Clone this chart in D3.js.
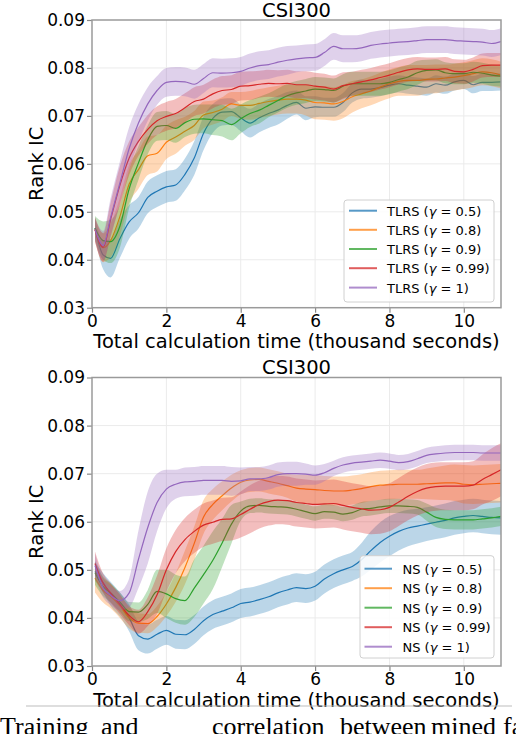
<!DOCTYPE html>
<html><head><meta charset="utf-8">
<script src="https://cdn.jsdelivr.net/npm/d3@7"></script>
<style>
body{margin:0;background:#fff}
svg{display:block}
text{font-family:"DejaVu Sans",sans-serif;fill:#000}
</style>
</head><body>
<svg id="chart" width="516" height="734"></svg>
<script>
// ---- data ----
const xGrid = [0.08,0.3,0.5,0.75,1,1.25,1.5,1.75,2,2.25,2.5,2.75,3,3.25,3.5,3.75,4,4.25,4.5,4.75,5,5.25,5.5,5.75,6,6.25,6.5,6.75,7,7.25,7.5,7.75,8,8.25,8.5,8.75,9,9.25,9.5,9.75,10,10.25,10.5,10.75,11];
const gammas = ["0.5","0.8","0.9","0.99","1"];
const colors = ["#1f77b4","#ff7f0e","#2ca02c","#d62728","#9467bd"];
const xTicks = [0,2,4,6,8,10];
const yTicks = [0.03,0.04,0.05,0.06,0.07,0.08,0.09];
const panelTitles = ["CSI300","CSI300"];
const methodNames = ["TLRS","NS"];

// TLRS (top panel) means and half-widths of the shaded band
const tlrs05 = [0.0466,0.0410,0.0403,0.0444,0.0479, 0.0498,0.0530,0.0543,0.0552,0.0556, 0.0578,0.0612,0.0664,0.0695,0.0708, 0.0709,0.0696,0.0685,0.0696,0.0705, 0.0712,0.0722,0.0728,0.0716,0.0719, 0.0718,0.0718,0.0728,0.0748,0.0756, 0.0756,0.0759,0.0764,0.0767,0.0764, 0.0762,0.0760,0.0767,0.0764,0.0771, 0.0774,0.0765,0.0770,0.0770,0.0771];
const tlrs05Band = [0.0020,0.0030,0.0040,0.0040,0.0035, 0.0033,0.0033,0.0033,0.0033,0.0033, 0.0033,0.0035,0.0035,0.0030,0.0028, 0.0028,0.0028,0.0030,0.0030,0.0030, 0.0030,0.0028,0.0025,0.0025,0.0022, 0.0020,0.0020,0.0020,0.0020,0.0020, 0.0018,0.0018,0.0018,0.0018,0.0018, 0.0018,0.0018,0.0018,0.0018,0.0018, 0.0018,0.0018,0.0018,0.0018,0.0018];
const tlrs08 = [0.0463,0.0425,0.0440,0.0490,0.0558, 0.0588,0.0617,0.0622,0.0645,0.0656, 0.0668,0.0680,0.0702,0.0707,0.0714, 0.0725,0.0722,0.0722,0.0726,0.0730, 0.0733,0.0735,0.0735,0.0733,0.0728, 0.0727,0.0725,0.0730,0.0740,0.0746, 0.0752,0.0760,0.0767,0.0772,0.0774, 0.0774,0.0776,0.0777,0.0779,0.0781, 0.0784,0.0788,0.0792,0.0790,0.0785];
const tlrs08Band = [0.0025,0.0030,0.0035,0.0040,0.0040, 0.0040,0.0040,0.0038,0.0035,0.0035, 0.0030,0.0030,0.0028,0.0025,0.0025, 0.0025,0.0028,0.0030,0.0030,0.0030, 0.0030,0.0030,0.0030,0.0032,0.0035, 0.0035,0.0035,0.0035,0.0033,0.0030, 0.0030,0.0030,0.0030,0.0030,0.0032, 0.0032,0.0030,0.0030,0.0028,0.0028, 0.0028,0.0028,0.0028,0.0028,0.0028];
const tlrs09 = [0.0466,0.0440,0.0438,0.0470,0.0548, 0.0602,0.0650,0.0678,0.0680,0.0674, 0.0686,0.0693,0.0694,0.0692,0.0690, 0.0682,0.0694,0.0705,0.0712,0.0722, 0.0732,0.0742,0.0748,0.0752,0.0756, 0.0755,0.0753,0.0762,0.0767,0.0767, 0.0767,0.0767,0.0770,0.0776,0.0781, 0.0790,0.0795,0.0796,0.0790,0.0788, 0.0788,0.0791,0.0789,0.0785,0.0783];
const tlrs09Band = [0.0025,0.0040,0.0045,0.0045,0.0040, 0.0035,0.0030,0.0030,0.0030,0.0030, 0.0030,0.0030,0.0030,0.0032,0.0033, 0.0033,0.0030,0.0028,0.0028,0.0025, 0.0025,0.0025,0.0025,0.0025,0.0025, 0.0025,0.0025,0.0025,0.0025,0.0025, 0.0025,0.0025,0.0025,0.0025,0.0025, 0.0025,0.0022,0.0022,0.0022,0.0022, 0.0022,0.0022,0.0022,0.0022,0.0022];
const tlrs099 = [0.0463,0.0426,0.0484,0.0555,0.0612, 0.0647,0.0672,0.0690,0.0699,0.0705, 0.0717,0.0730,0.0735,0.0746,0.0753, 0.0755,0.0762,0.0763,0.0766,0.0768, 0.0767,0.0768,0.0765,0.0765,0.0762, 0.0760,0.0756,0.0763,0.0767,0.0771, 0.0775,0.0780,0.0785,0.0791,0.0796, 0.0798,0.0797,0.0797,0.0798,0.0793, 0.0792,0.0797,0.0805,0.0806,0.0806];
const tlrs099Band = [0.0025,0.0030,0.0035,0.0040,0.0035, 0.0030,0.0030,0.0030,0.0030,0.0030, 0.0030,0.0030,0.0030,0.0030,0.0030, 0.0030,0.0030,0.0030,0.0028,0.0028, 0.0028,0.0028,0.0028,0.0028,0.0028, 0.0028,0.0028,0.0028,0.0025,0.0025, 0.0025,0.0025,0.0025,0.0025,0.0025, 0.0025,0.0025,0.0025,0.0025,0.0025, 0.0025,0.0025,0.0025,0.0025,0.0025];
const tlrs1 = [0.0463,0.0430,0.0488,0.0560,0.0632, 0.0685,0.0725,0.0753,0.0770,0.0772, 0.0771,0.0766,0.0778,0.0790,0.0789, 0.0790,0.0793,0.0800,0.0805,0.0807, 0.0812,0.0816,0.0819,0.0821,0.0822, 0.0832,0.0845,0.0840,0.0840,0.0842, 0.0847,0.0850,0.0852,0.0854,0.0855, 0.0857,0.0859,0.0859,0.0859,0.0857, 0.0856,0.0855,0.0854,0.0851,0.0855];
const tlrs1Band = [0.0025,0.0030,0.0040,0.0045,0.0045, 0.0040,0.0035,0.0030,0.0030,0.0030, 0.0030,0.0030,0.0030,0.0030,0.0030, 0.0030,0.0030,0.0030,0.0030,0.0030, 0.0030,0.0030,0.0028,0.0028,0.0028, 0.0028,0.0028,0.0028,0.0028,0.0028, 0.0028,0.0028,0.0028,0.0028,0.0028, 0.0028,0.0028,0.0028,0.0028,0.0028, 0.0028,0.0028,0.0028,0.0028,0.0028];

// NS (bottom panel)
const ns05 = [0.0497,0.0473,0.0450,0.0428,0.0400, 0.0363,0.0356,0.0366,0.0374,0.0366, 0.0365,0.0376,0.0394,0.0407,0.0414, 0.0421,0.0430,0.0433,0.0438,0.0444, 0.0452,0.0458,0.0463,0.0461,0.0466, 0.0481,0.0492,0.0500,0.0507,0.0521, 0.0540,0.0557,0.0570,0.0580,0.0587, 0.0591,0.0595,0.0599,0.0603,0.0608, 0.0611,0.0613,0.0611,0.0609,0.0608];
const ns05Band = [0.0020,0.0020,0.0025,0.0025,0.0028, 0.0030,0.0030,0.0030,0.0030,0.0030, 0.0030,0.0030,0.0030,0.0030,0.0030, 0.0030,0.0030,0.0030,0.0030,0.0030, 0.0030,0.0030,0.0030,0.0030,0.0030, 0.0030,0.0030,0.0030,0.0030,0.0035, 0.0040,0.0042,0.0042,0.0040,0.0038, 0.0036,0.0035,0.0035,0.0035,0.0035, 0.0035,0.0035,0.0035,0.0035,0.0035];
const ns08 = [0.0483,0.0457,0.0445,0.0425,0.0400, 0.0389,0.0388,0.0403,0.0429,0.0463, 0.0505,0.0555,0.0610,0.0636,0.0654, 0.0670,0.0682,0.0687,0.0688,0.0684, 0.0680,0.0675,0.0670,0.0668,0.0667, 0.0665,0.0664,0.0664,0.0666,0.0669, 0.0673,0.0676,0.0677,0.0678,0.0678, 0.0678,0.0679,0.0680,0.0681,0.0681, 0.0678,0.0677,0.0678,0.0679,0.0680];
const ns08Band = [0.0030,0.0025,0.0025,0.0025,0.0022, 0.0020,0.0020,0.0022,0.0025,0.0030, 0.0035,0.0035,0.0035,0.0032,0.0030, 0.0028,0.0025,0.0025,0.0025,0.0025, 0.0025,0.0025,0.0028,0.0030,0.0030, 0.0030,0.0030,0.0030,0.0030,0.0030, 0.0030,0.0030,0.0030,0.0030,0.0030, 0.0030,0.0032,0.0034,0.0036,0.0038, 0.0040,0.0040,0.0040,0.0040,0.0040];
const ns09 = [0.0494,0.0465,0.0452,0.0433,0.0413, 0.0412,0.0428,0.0455,0.0450,0.0440, 0.0436,0.0462,0.0490,0.0520,0.0556, 0.0595,0.0622,0.0633,0.0634,0.0632, 0.0631,0.0630,0.0626,0.0621,0.0617, 0.0621,0.0620,0.0616,0.0619,0.0626, 0.0628,0.0631,0.0633,0.0633,0.0632, 0.0630,0.0620,0.0609,0.0605,0.0604, 0.0604,0.0604,0.0606,0.0608,0.0611];
const ns09Band = [0.0025,0.0020,0.0020,0.0020,0.0020, 0.0020,0.0030,0.0045,0.0050,0.0050, 0.0050,0.0060,0.0060,0.0060,0.0050, 0.0040,0.0020,0.0015,0.0015,0.0015, 0.0015,0.0015,0.0015,0.0015,0.0015, 0.0015,0.0015,0.0015,0.0015,0.0015, 0.0015,0.0015,0.0015,0.0015,0.0015, 0.0015,0.0018,0.0020,0.0020,0.0020, 0.0020,0.0020,0.0020,0.0020,0.0020];
const ns099 = [0.0513,0.0472,0.0452,0.0428,0.0405, 0.0392,0.0413,0.0448,0.0500,0.0538, 0.0563,0.0580,0.0593,0.0599,0.0605, 0.0606,0.0615,0.0626,0.0636,0.0642, 0.0645,0.0644,0.0640,0.0638,0.0636, 0.0637,0.0638,0.0634,0.0630,0.0627, 0.0624,0.0625,0.0630,0.0641,0.0653, 0.0663,0.0670,0.0673,0.0674,0.0674, 0.0674,0.0676,0.0688,0.0698,0.0708];
const ns099Band = [0.0025,0.0020,0.0020,0.0020,0.0020, 0.0025,0.0030,0.0040,0.0045,0.0045, 0.0045,0.0045,0.0045,0.0045,0.0045, 0.0045,0.0048,0.0050,0.0050,0.0050, 0.0050,0.0050,0.0050,0.0050,0.0050, 0.0050,0.0050,0.0050,0.0050,0.0050, 0.0050,0.0050,0.0050,0.0050,0.0050, 0.0050,0.0050,0.0050,0.0050,0.0050, 0.0050,0.0050,0.0052,0.0055,0.0055];
const ns1 = [0.0509,0.0462,0.0447,0.0436,0.0452, 0.0522,0.0588,0.0640,0.0668,0.0678, 0.0683,0.0684,0.0686,0.0686,0.0686, 0.0684,0.0685,0.0689,0.0689,0.0692, 0.0698,0.0700,0.0700,0.0699,0.0697, 0.0702,0.0711,0.0718,0.0722,0.0724, 0.0726,0.0728,0.0726,0.0723,0.0725, 0.0731,0.0738,0.0741,0.0743,0.0744, 0.0744,0.0744,0.0743,0.0743,0.0743];
const ns1Band = [0.0025,0.0020,0.0020,0.0020,0.0030, 0.0060,0.0075,0.0060,0.0040,0.0030, 0.0030,0.0030,0.0030,0.0030,0.0030, 0.0030,0.0028,0.0025,0.0025,0.0025, 0.0025,0.0025,0.0025,0.0022,0.0020, 0.0018,0.0016,0.0016,0.0016,0.0016, 0.0016,0.0016,0.0016,0.0016,0.0016, 0.0016,0.0016,0.0016,0.0016,0.0016, 0.0016,0.0016,0.0016,0.0016,0.0016];

const captionWords = ["Training","and","correlation","between","mined","fact"];

// ---- drawing ----
const svg = d3.select("#chart");
const panels = [
  {top:20, bottom:307.7, means:[tlrs05,tlrs08,tlrs09,tlrs099,tlrs1], bands:[tlrs05Band,tlrs08Band,tlrs09Band,tlrs099Band,tlrs1Band],
   title:panelTitles[0], name:methodNames[0], legend:{x0:344,x1:494,y0:200,y1:302, hx0:349, hx1:377, tx:387, rows:[210.7,229.8,249,268.2,287.6]}},
  {top:377.5, bottom:666, means:[ns05,ns08,ns09,ns099,ns1], bands:[ns05Band,ns08Band,ns09Band,ns099Band,ns1Band],
   title:panelTitles[1], name:methodNames[1], legend:{x0:360,x1:494,y0:555.7,y1:658, hx0:364.5, hx1:392, tx:402.5, rows:[568.7,588.2,607.7,627.2,646.7]}}
];
const left = 92, right = 501;
const x = d3.scaleLinear().domain([0,11]).range([left,right]);

panels.forEach((p,pi)=>{
  const y = d3.scaleLinear().domain([0.03,0.09]).range([p.bottom,p.top]);
  const g = svg.append("g");
  const clipId = "clip"+pi;
  svg.append("clipPath").attr("id",clipId).append("rect")
    .attr("x",left).attr("y",p.top).attr("width",right-left).attr("height",p.bottom-p.top);

  // grid
  g.append("g").selectAll("line").data(xTicks.filter(d=>d>0)).join("line")
    .attr("x1",d=>x(d)).attr("x2",d=>x(d)).attr("y1",p.top).attr("y2",p.bottom)
    .attr("stroke","#ebebeb").attr("stroke-width",1);
  g.append("g").selectAll("line").data(yTicks.slice(1,-1)).join("line")
    .attr("x1",left).attr("x2",right).attr("y1",d=>y(d)).attr("y2",d=>y(d))
    .attr("stroke","#ebebeb").attr("stroke-width",1);

  const data = g.append("g").attr("clip-path",`url(#${clipId})`);
  p.means.forEach((m,si)=>{
    const pts = xGrid.map((xv,i)=>({x:xv, m:m[i], h:p.bands[si][i]}));
    const area = d3.area().x(d=>x(d.x)).y0(d=>y(d.m-d.h)).y1(d=>y(d.m+d.h)).curve(d3.curveMonotoneX);
    const line = d3.line().x(d=>x(d.x)).y(d=>y(d.m)).curve(d3.curveMonotoneX);
    data.append("path").attr("d",area(pts)).attr("fill",colors[si]).attr("fill-opacity",0.3).attr("stroke","none");
    data.append("path").attr("d",line(pts)).attr("fill","none").attr("stroke",colors[si]).attr("stroke-width",1.2);
  });

  // axes
  const ax = g.append("g").attr("transform",`translate(0,${p.bottom})`)
    .call(d3.axisBottom(x).tickValues(xTicks).tickFormat(d3.format("d")).tickSize(5).tickPadding(2));
  const ay = g.append("g").attr("transform",`translate(${left},0)`)
    .call(d3.axisLeft(y).tickValues(yTicks).tickFormat(d3.format(".2f")).tickSize(5).tickPadding(2));
  [ax,ay].forEach(a=>{
    a.select(".domain").remove();
    a.selectAll(".tick line").attr("stroke","#888").attr("stroke-width",1.2);
    a.selectAll(".tick text").style("font-family","DejaVu Sans").style("font-size","17px").attr("fill","#000");
  });

  // frame
  g.append("rect").attr("x",left).attr("y",p.top).attr("width",right-left).attr("height",p.bottom-p.top)
    .attr("fill","none").attr("stroke","#9a9a9a").attr("stroke-width",1.5);

  // title and labels
  g.append("text").attr("x",(left+right)/2).attr("y",p.top-3.5).attr("text-anchor","middle")
    .style("font-size","19.5px").text(p.title);
  g.append("text").attr("x",(left+right)/2).attr("y",p.bottom+40.5).attr("text-anchor","middle")
    .style("font-size","19.5px").text("Total calculation time (thousand seconds)");
  g.append("text").attr("transform",`translate(43,${(p.top+p.bottom)/2}) rotate(-90)`).attr("text-anchor","middle")
    .style("font-size","19.5px").text("Rank IC");

  // legend
  const L = p.legend;
  g.append("rect").attr("x",L.x0).attr("y",L.y0).attr("width",L.x1-L.x0).attr("height",L.y1-L.y0)
    .attr("rx",3).attr("fill","#fff").attr("fill-opacity",0.85).attr("stroke","#d0d0d0").attr("stroke-width",1);
  gammas.forEach((gm,si)=>{
    const ry = L.rows[si];
    g.append("line").attr("x1",L.hx0).attr("x2",L.hx1).attr("y1",ry).attr("y2",ry)
      .attr("stroke",colors[si]).attr("stroke-width",2).attr("stroke-opacity",0.75);
    const t = g.append("text").attr("x",L.tx).attr("y",ry+5).style("font-size","13px");
    t.append("tspan").text(p.name+" (");
    t.append("tspan").style("font-style","italic").text("γ");
    t.append("tspan").text(" = "+gm+")");
  });
});

// bottom separator and caption fragment (cut off by the page edge, as in the reference)
svg.append("line").attr("x1",26).attr("x2",512).attr("y1",706).attr("y2",706)
  .attr("stroke","#bdbdbd").attr("stroke-width",1);
const capX = [0,101,212,340,431,503];
captionWords.forEach((w,i)=>{
  svg.append("text").attr("x",capX[i]).attr("y",735)
    .style("font-family","'Liberation Serif',serif").style("font-size","26px").text(w);
});
</script>
</body></html>
